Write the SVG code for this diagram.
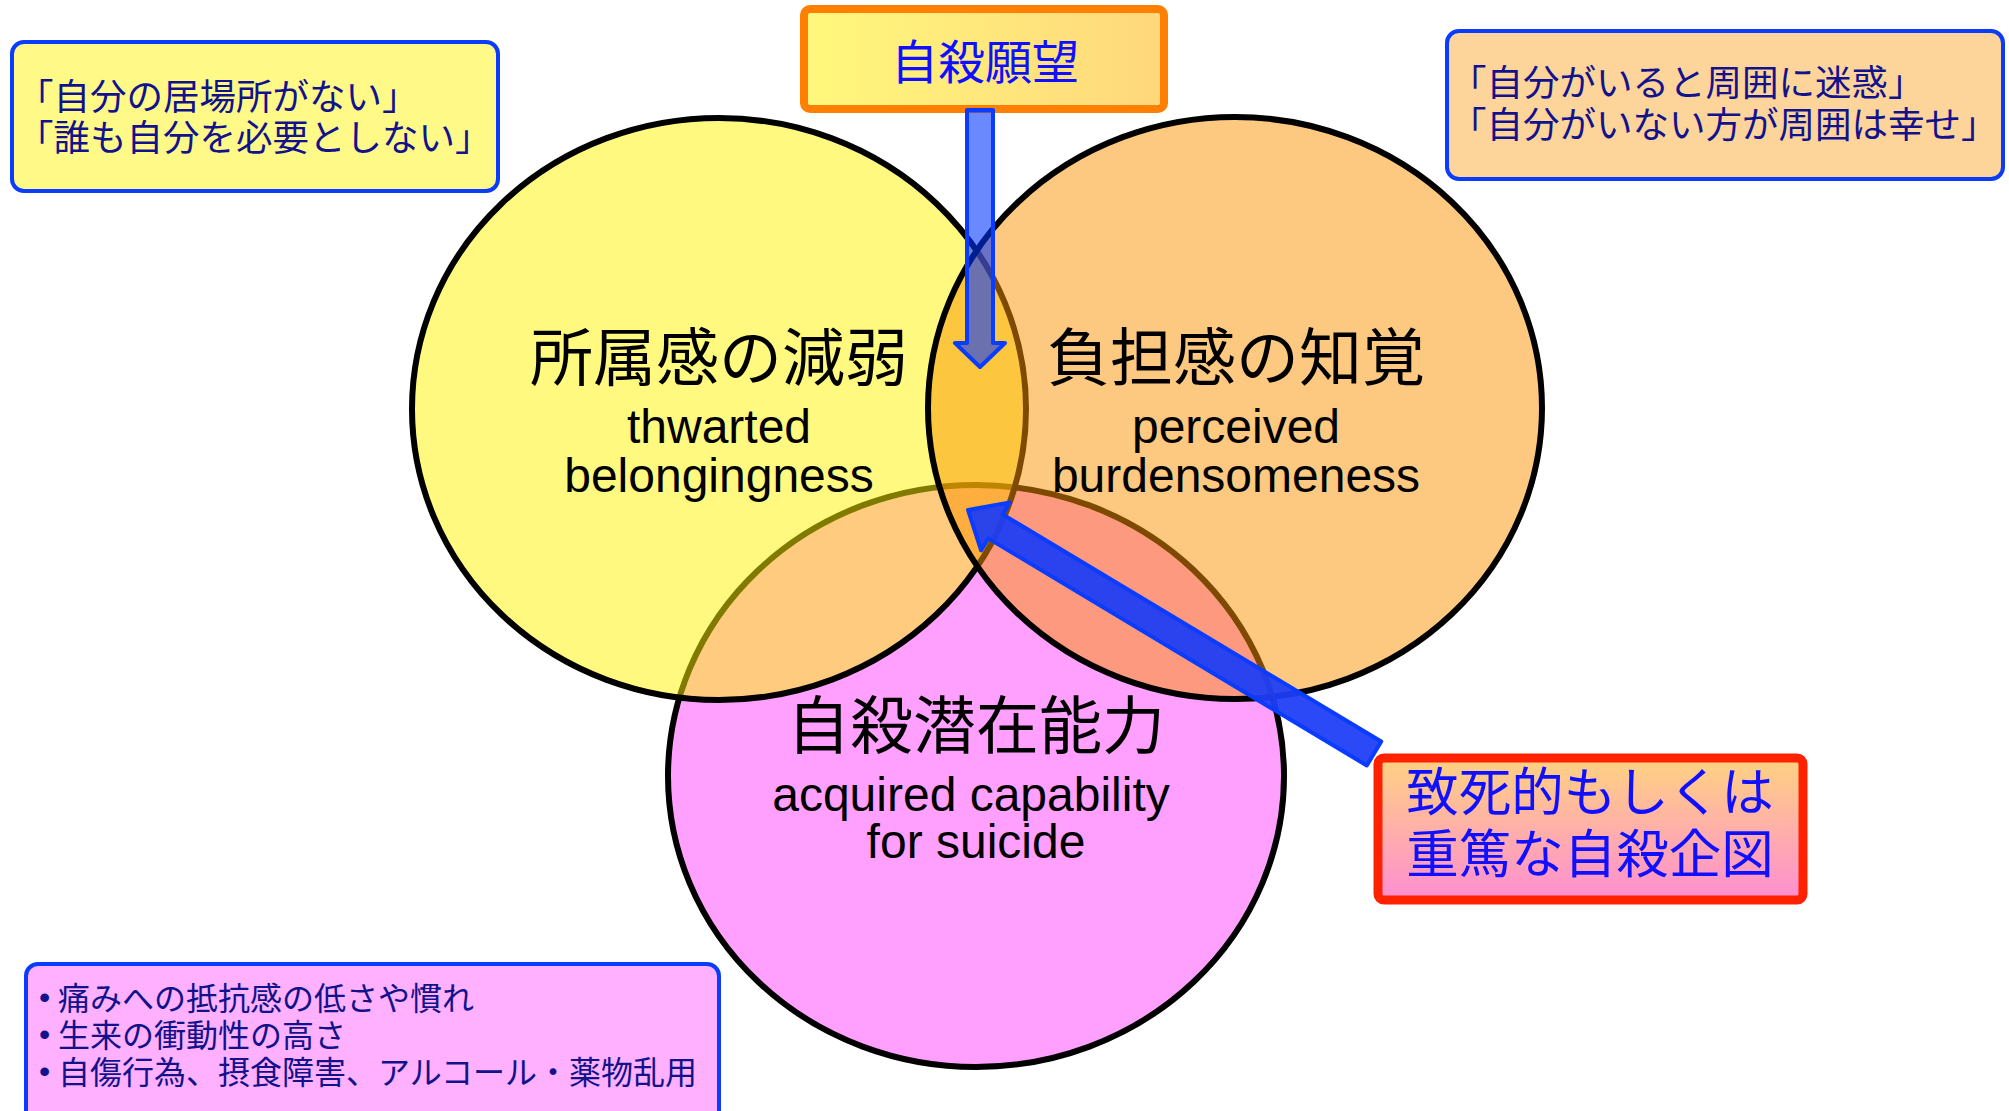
<svg xmlns="http://www.w3.org/2000/svg" width="2009" height="1111" viewBox="0 0 2009 1111">
<defs>
<linearGradient id="gDesire" x1="0" y1="0" x2="1" y2="0">
<stop offset="0" stop-color="#FFF87C"/>
<stop offset="1" stop-color="#FFD77C"/>
</linearGradient>
<linearGradient id="gAttempt" x1="0" y1="0" x2="0" y2="1">
<stop offset="0" stop-color="#FFD280"/>
<stop offset="1" stop-color="#FF8ED2"/>
</linearGradient>
</defs>
<style>
.circ{stroke:#000;stroke-width:6}
.jp{font-family:'Noto Sans CJK JP','Noto Sans CJK SC',sans-serif}
.en{font-family:'Liberation Sans',Arial,sans-serif;font-size:48px;fill:#000;text-anchor:middle}
.lbl{font-size:63px;fill:#000;text-anchor:middle}
.note{stroke:#0A3CFF;stroke-width:4}
.notetxt{font-size:36.5px;fill:#12128C}
.btxt{font-size:32px;fill:#12128C}
.bul{font-family:'Liberation Sans',Arial,sans-serif;font-size:32px;fill:#12128C}
.big{fill:#1010FF;text-anchor:middle}
.arrow{stroke:#0A3CFF;stroke-width:4;stroke-linejoin:round}
</style>
<rect width="2009" height="1111" fill="#fff"/>

<g id="capability">
<ellipse class="circ" cx="976" cy="776" rx="308" ry="291" fill="#FFA0FF"/>
</g>
<g id="belonging">
<ellipse class="circ" cx="719" cy="409" rx="307" ry="291" fill="#FFF500" fill-opacity="0.5"/>
</g>
<g id="burden">
<ellipse class="circ" cx="1235" cy="408" rx="307" ry="291" fill="#FC9200" fill-opacity="0.5"/>
</g>

<g id="belonging-label">
<text class="jp lbl" x="719" y="380">所属感の減弱</text>
<text class="en" x="719" y="443">thwarted</text>
<text class="en" x="719" y="492">belongingness</text>
</g>
<g id="burden-label">
<text class="jp lbl" x="1236" y="380">負担感の知覚</text>
<text class="en" x="1236" y="443">perceived</text>
<text class="en" x="1236" y="492">burdensomeness</text>
</g>
<g id="capability-label">
<text class="jp lbl" x="976" y="748">自殺潜在能力</text>
<text class="en" x="971" y="811">acquired capability</text>
<text class="en" x="976" y="858">for suicide</text>
</g>

<g id="quote-belonging">
<rect class="note" x="12" y="42" width="486" height="149" rx="12" fill="#FFFA88"/>
<text class="jp notetxt" x="17" y="110">「自分の居場所がない」</text>
<text class="jp notetxt" x="17" y="151">「誰も自分を必要としない」</text>
</g>

<g id="quote-burden">
<rect class="note" x="1447" y="31" width="556" height="148" rx="12" fill="#FDD49A"/>
<text class="jp notetxt" x="1450" y="96">「自分がいると周囲に迷惑」</text>
<text class="jp notetxt" x="1450" y="138">「自分がいない方が周囲は幸せ」</text>
</g>

<g id="capability-notes">
<rect class="note" x="26" y="964" width="693" height="160" rx="12" fill="#FFB0FF"/>
<text class="bul" x="39" y="1008">•</text>
<text class="jp btxt" x="58" y="1010">痛みへの抵抗感の低さや慣れ</text>
<text class="bul" x="39" y="1045">•</text>
<text class="jp btxt" x="58" y="1047">生来の衝動性の高さ</text>
<text class="bul" x="39" y="1082">•</text>
<text class="jp btxt" x="58" y="1084">自傷行為、摂食障害、アルコール・薬物乱用</text>
</g>

<g id="desire">
<rect x="804" y="9" width="360" height="100" rx="6" fill="url(#gDesire)" stroke="#FF7F00" stroke-width="8"/>
<text class="jp big" x="985" y="79" font-size="47">自殺願望</text>
</g>

<g id="attempt">
<rect x="1378" y="758" width="425" height="142" rx="6" fill="url(#gAttempt)" stroke="#FF2200" stroke-width="9"/>
<text class="jp big" x="1590" y="811" font-size="52.5">致死的もしくは</text>
<text class="jp big" x="1590" y="873" font-size="52.5">重篤な自殺企図</text>
</g>

<g id="connectors">
<path class="arrow" d="M967,110 L993,110 L993,343 L1005,343 L980,367 L955,343 L967,343 Z" fill="#0033FF" fill-opacity="0.58"/>
<path class="arrow" d="M968,510 L1009.9,502.4 L1002.7,514.4 L1381.2,741.5 L1366.8,765.5 L988.3,538.4 L981.1,550.4 Z" fill="#1E3EF5" fill-opacity="0.94"/>
</g>
</svg>
